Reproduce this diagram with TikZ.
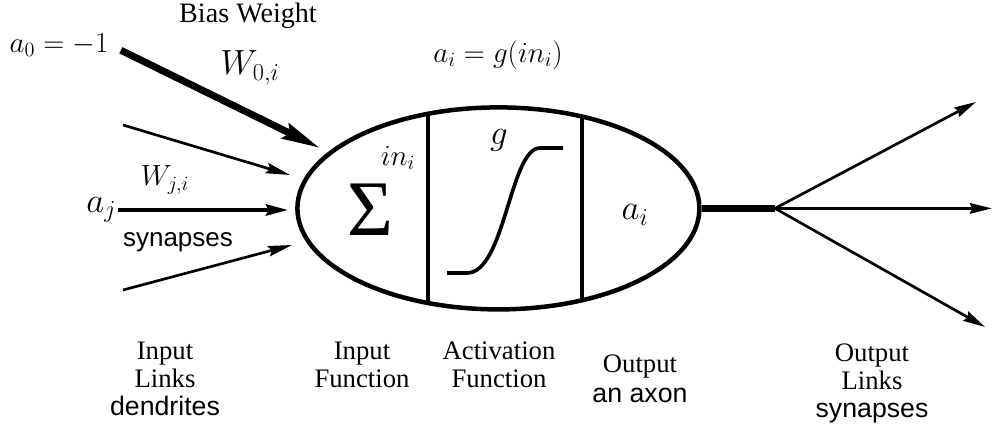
\documentclass[tikz,border=0pt]{standalone}
\usepackage{fontspec}
\setmainfont{Liberation Serif}
\setsansfont{Liberation Sans}
\usepackage{tikz}
\usetikzlibrary{shapes.geometric, arrows.meta, positioning, calc}
\tikzstyle{cell} = [ellipse, draw, line width=3.2pt, minimum width=10.05cm, minimum height=5.05cm, inner sep=0pt]
\tikzstyle{divider} = [line width=2.2pt]
\tikzstyle{sigmoid} = [line width=2.6pt]
\tikzstyle{trunk} = [line width=4.5pt]
\tikzstyle{biasarrow} = [-{Stealth[length=9.5mm, width=4mm, inset=1.2mm]}, line width=5pt]
\tikzstyle{thinarrow} = [-{Stealth[length=6mm, width=2.6mm, inset=0.8mm]}, line width=1.9pt]
\tikzstyle{midarrow} = [-{Stealth[length=5.5mm, width=2.8mm, inset=0.7mm]}, line width=2.8pt]
\tikzstyle{outarrow} = [-{Stealth[length=5.5mm, width=2.6mm, inset=0.6mm]}, line width=1.9pt]
\tikzstyle{mathtxt} = [inner sep=1pt, font=\fontsize{22}{24}\selectfont]
\tikzstyle{bigmath} = [inner sep=1pt, font=\fontsize{24}{26}\selectfont]
\tikzstyle{smallmath} = [inner sep=1pt, font=\fontsize{20}{22}\selectfont]
\tikzstyle{captxt} = [align=center, anchor=north, inner sep=0pt, font=\fontsize{19}{19.8}\selectfont]

\begin{document}
\begin{tikzpicture}
    \useasboundingbox (0,0) rectangle (24.95,10.8);

    % Neuron body
    \node[cell] (cell) at (12.46,5.59) {};
    \begin{scope}
        \clip (12.46,5.59) ellipse (5.025 and 2.525);
        \draw[divider] (10.7,2) -- (10.7,9);
        \draw[divider] (14.55,2) -- (14.55,9);
    \end{scope}

    % Inside the cell
    \node[inner sep=0pt, font=\fontsize{56}{56}\selectfont] (sum) at (9.25,5.55) {Σ};
    \node[smallmath] (net) at (9.95,6.85) {$in_i$};
    \node[bigmath] (act) at (12.475,7.3) {$g$};
    \draw[sigmoid] (11.175,3.975) -- (11.675,3.975) .. controls (12.625,3.975) and (12.75,7.1) .. (13.5,7.1) -- (14.075,7.1);
    \node[bigmath] (ai) at (15.875,5.425) {$a_i$};
    \node[mathtxt] (eqn) at (12.45,9.425) {$a_i = g(in_i)$};

    % Bias input
    \node[inner sep=1pt, font=\fontsize{21}{23}\selectfont] (a0) at (1.475,9.675) {$a_0 = -1$};
    \node[font=\fontsize{20}{22}\selectfont] (bw) at (6.2,10.4) {Bias Weight};
    \node[bigmath] (w0) at (6.25,9.1) {$W_{0,i}$};
    \coordinate (b-tip) at (8.0,7.1);
    \draw[biasarrow, shorten <=0.3cm] (a0.east) -- (b-tip);

    % Other inputs
    \coordinate (t2) at (3.075,7.675);
    \coordinate (h2) at (7.25,6.425);
    \draw[thinarrow] (t2) -- (h2);
    \node[bigmath, anchor=east] (aj) at (2.95,5.55) {$a_j$};
    \coordinate (h3) at (7.2,5.55);
    \draw[midarrow] (aj.east) -- (h3);
    \node[smallmath] (wj) at (4.125,6.3) {$W_{j,i}$};
    \node[font=\sffamily\fontsize{18.5}{20}\selectfont] (syn) at (4.45,4.75) {synapses};
    \coordinate (t4) at (3.075,3.55);
    \coordinate (h4) at (7.3,4.675);
    \draw[thinarrow] (t4) -- (h4);

    % Output
    \coordinate (split) at (19.375,5.59);
    \draw[trunk] (cell.east) -- (split);
    \coordinate (o1) at (24.4,8.25);
    \coordinate (o2) at (24.8,5.59);
    \coordinate (o3) at (24.625,2.625);
    \draw[outarrow] (split) -- (o1);
    \draw[outarrow, line width=2.4pt] (split) -- (o2);
    \draw[outarrow] (split) -- (o3);

    % Captions
    \node[captxt] (inlinks) at (4.125,2.25) {Input\\Links\\\textsf{dendrites}};
    \node[captxt] (infun) at (9.05,2.25) {Input\\Function};
    \node[captxt] (actfun) at (12.475,2.25) {Activation\\Function};
    \node[captxt, font=\fontsize{19}{21}\selectfont] (axon) at (16.0,1.925) {Output\\\textsf{an axon}};
    \node[captxt] (outlinks) at (21.8,2.2) {Output\\Links\\\textsf{synapses}};
\end{tikzpicture}
\end{document}
